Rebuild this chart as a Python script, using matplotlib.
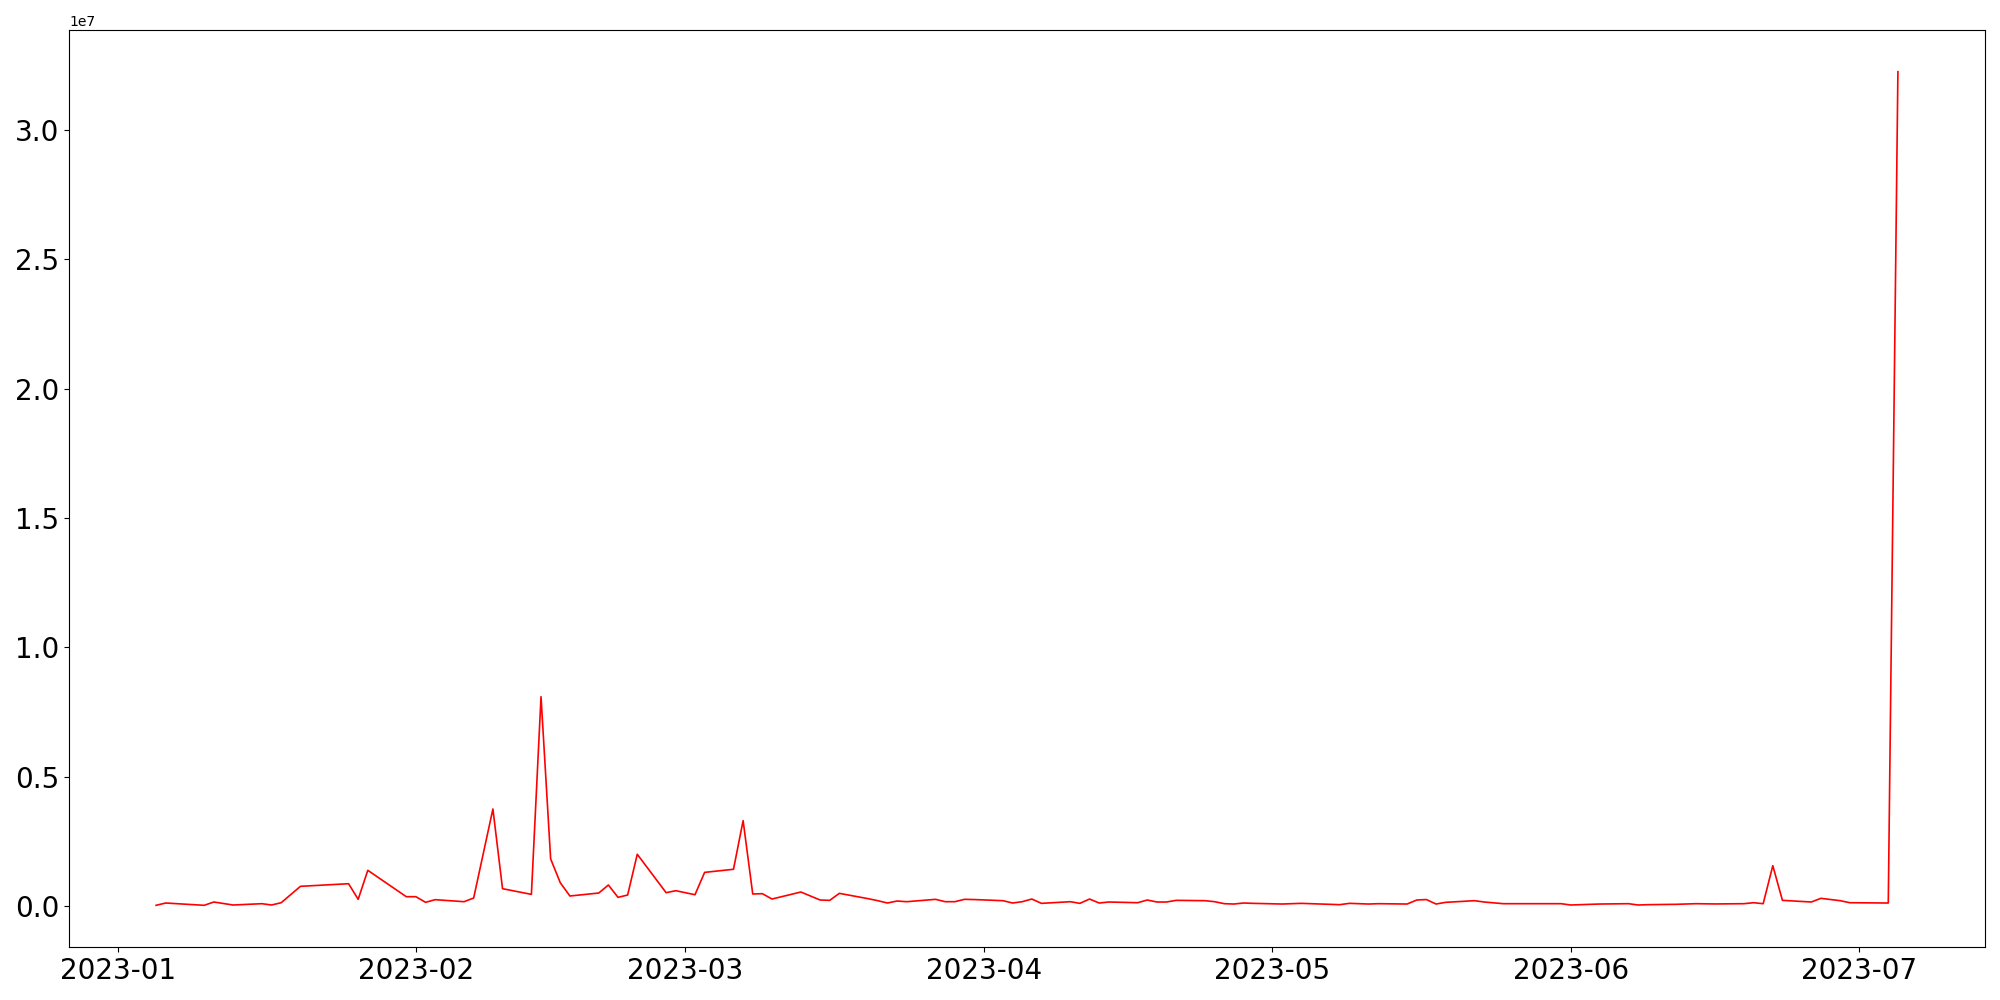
import matplotlib
matplotlib.use("Agg")
import matplotlib.pyplot as plt
import pandas as pd

# day offsets from 2023-01-01 and values
day_offsets = [4, 5, 9, 10, 12, 15, 16, 17, 19, 24, 25, 26, 30, 31, 32, 33, 36, 37, 39, 40,
               43, 44, 45, 46, 47, 50, 51, 52, 53, 54, 57, 58, 60, 61, 64, 65, 66, 67, 68, 71,
               73, 74, 75, 78, 79, 80, 81, 82, 85, 86, 87, 88, 89, 92, 93, 94, 95, 96, 99, 100,
               101, 102, 103, 106, 107, 108, 109, 110, 113, 114, 115, 116, 117, 118, 121, 123, 124, 127, 128, 130,
               131, 134, 135, 136, 137, 138, 141, 142, 144, 145, 148, 150, 151, 152, 154, 157, 158, 159, 162, 164,
               166, 169, 170, 171, 172, 173, 176, 177, 179, 180, 184, 185]
values = [27e3, 116e3, 27e3, 155e3, 39e3, 90e3, 39e3, 128e3, 761e3, 862e3, 259e3, 1.38e6, 360e3, 360e3, 143e3, 245e3, 167e3, 309e3, 3.75e6, 670e3,
          450e3, 8.09e6, 1.82e6, 900e3, 387e3, 502e3, 812e3, 335e3, 425e3, 2.0e6, 515e3, 592e3, 437e3, 1.30e6, 1.42e6, 3.30e6, 464e3, 477e3, 270e3, 541e3,
          232e3, 219e3, 490e3, 283e3, 206e3, 116e3, 193e3, 167e3, 258e3, 167e3, 167e3, 258e3, 250e3, 206e3, 116e3, 167e3, 270e3, 103e3, 167e3, 103e3,
          270e3, 116e3, 155e3, 128e3, 232e3, 155e3, 155e3, 219e3, 206e3, 167e3, 90e3, 77e3, 116e3, 103e3, 77e3, 103e3, 90e3, 52e3, 103e3, 77e3,
          90e3, 77e3, 232e3, 250e3, 77e3, 142e3, 206e3, 155e3, 90e3, 90e3, 90e3, 90e3, 39e3, 52e3, 77e3, 90e3, 39e3, 52e3, 66e3, 90e3,
          80e3, 90e3, 128e3, 90e3, 1.56e6, 219e3, 155e3, 297e3, 206e3, 128e3, 116e3, 32.25e6]

dates = pd.Timestamp("2023-01-01") + pd.to_timedelta(day_offsets, unit="D")

fig, ax = plt.subplots(figsize=(20, 10), dpi=100)
ax.plot(dates, values, color="red", linewidth=1.2)
ax.tick_params(axis="both", labelsize=20)
fig.subplots_adjust(left=0.0345, right=0.9925, top=0.97, bottom=0.053)
fig.savefig("out.png", dpi=100)
